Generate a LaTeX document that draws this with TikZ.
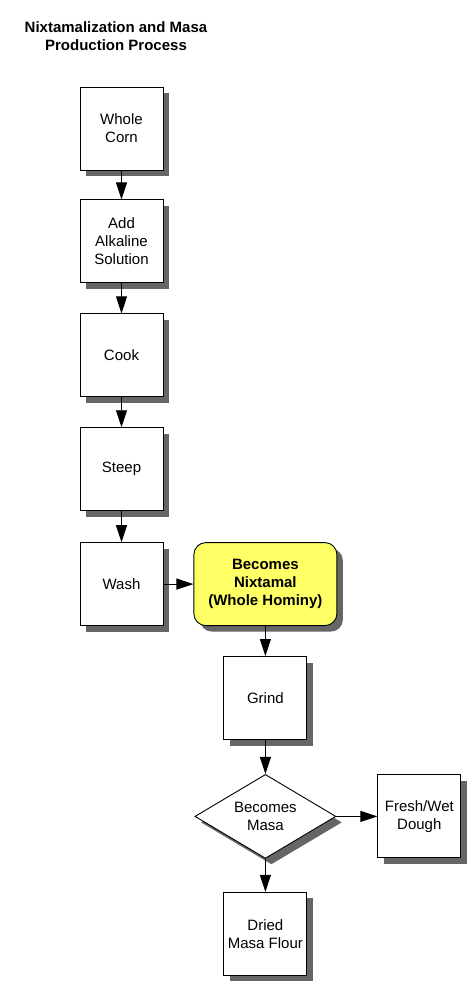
\documentclass[tikz,border=0pt]{standalone}
\usepackage{fontspec}
\setmainfont{Liberation Sans}
\usepackage{tikz}
\usetikzlibrary{arrows.meta,positioning,shapes.geometric,shadows}
\definecolor{nixyellow}{HTML}{FFFF66}
\definecolor{shadowgray}{HTML}{666666}
\tikzset{
  flownode/.style = {align=center, inner sep=0pt, text centered, draw=black,
    line width=0.9pt, font=\fontsize{15}{18}\selectfont,
    drop shadow={shadow xshift=6pt, shadow yshift=-6pt, fill=shadowgray, opacity=1}},
  procbox/.style = {flownode, rectangle, fill=white,
    minimum width=83pt, minimum height=83pt},% plain white box
  resultbox/.style = {flownode, rectangle, rounded corners=12pt, fill=nixyellow,
    minimum width=143pt, minimum height=83pt,
    font=\fontsize{15}{18}\selectfont\bfseries},% yellow box with bold text
  choice/.style = {flownode, diamond, fill=white, shape aspect=1.67,
    minimum width=141pt, minimum height=84pt},% decision diamond
  title/.style = {align=center, font=\fontsize{15}{18}\selectfont\bfseries}
}
\begin{document}
\begin{tikzpicture}[x=1pt,y=-1pt,>={Triangle[length=17pt,width=11pt]},->,line width=0.9pt,
  node distance=30pt]
\useasboundingbox (0,0) rectangle (474,1000);
\node [title] (title) at (116,36) {Nixtamalization and Masa\\Production Process};
% left column
\node [procbox] (whole) at (121.5,128.5) {Whole\\Corn};
\node [procbox, below=29pt of whole] (alkaline) {Add\\Alkaline\\Solution};
\node [procbox, below=of alkaline] (cook) {Cook};
\node [procbox, below=of cook] (steep) {Steep};
\node [procbox, below=31pt of steep] (wash) {Wash};
% right column
\node [resultbox, right=of wash] (nixtamal) {Becomes\\Nixtamal\\(Whole Hominy)};
\node [procbox, below=30pt of nixtamal] (grind) {Grind};
\node [choice, below=34pt of grind] (masa) {Becomes\\Masa};
\node [procbox, right=41pt of masa] (dough) {Fresh/Wet\\Dough};
\node [procbox, below=33pt of masa] (flour) {Dried\\Masa Flour};

\draw (whole) -- (alkaline);
\draw (alkaline) -- (cook);
\draw (cook) -- (steep);
\draw (steep) -- (wash);
\draw (wash) -- (nixtamal);
\draw (nixtamal) -- (grind);
\draw (grind) -- (masa);
\draw (masa) -- (dough);
\draw (masa) -- (flour);
\end{tikzpicture}
\end{document}
